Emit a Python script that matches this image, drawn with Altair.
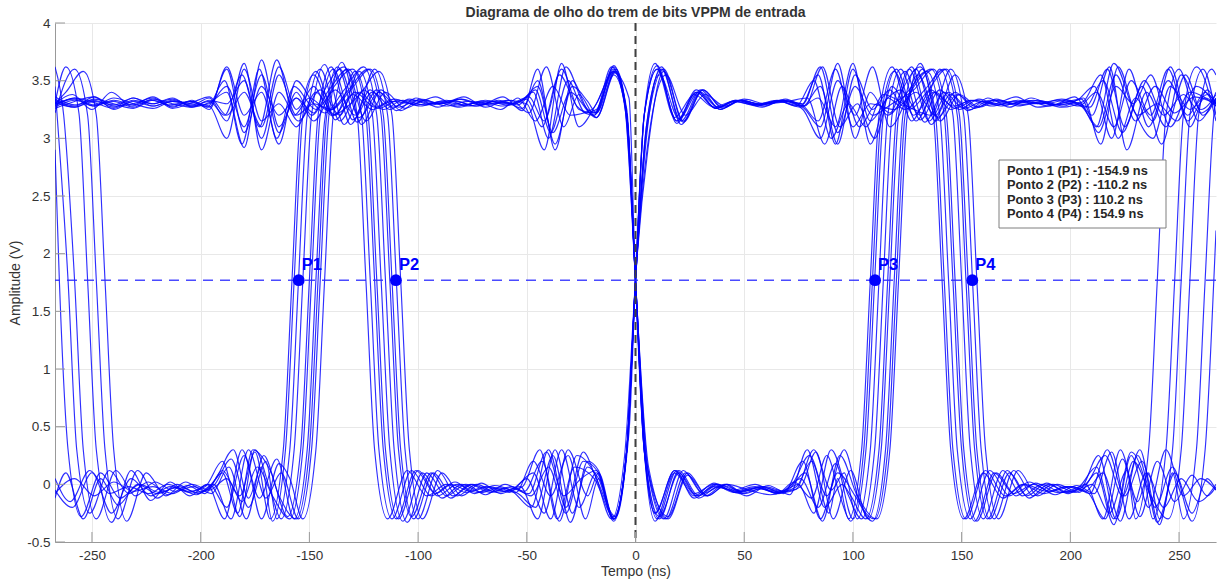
import altair as alt
import pandas as pd

# ---- eye-diagram traces (time ns, amplitude V), knots ----
A = [(-267,3.22),(-258,3.6),(-252,3.2),(-248,1.77),(-244,0.3),(-238,-0.3),(-229,0.12),(-220,-0.12),(-211,0.0),(-202,-0.07),(-194,-0.01),
     (-186,0.22),(-178,-0.2),(-170,0.2),(-165,-0.3),(-159,0.3),(-155,1.77),(-151,3.2),(-145,3.6),(-136,3.15),(-127,3.4),(-118,3.26),(-109,3.33),
     (-99,3.28),(-89,3.32),(-79,3.29),(-69,3.33),(-59,3.29),(-50,3.34),
     (-43,3.1),(-35,3.55),(-27,3.28),(-19,3.2),(-10,3.6),(-4,3.2),(0,1.77),(4,0.3),(10,-0.3),(19,0.12),(28,-0.1),(37,0.0),
     (46,-0.07),(56,-0.03),(66,-0.08),(76,0.05),(84,-0.2),(92,0.18),(100,-0.3),(106,0.3),(110,1.77),(114,3.2),(120,3.6),(129,3.15),(138,3.4),(147,3.26),(156,3.33),
     (166,3.29),(176,3.33),(186,3.3),(196,3.34),(205,3.28),(213,3.1),(221,3.55),(230,3.15),(239,3.45),(248,3.22),(257,3.36),(267,3.3)]
B = [(-267,3.3),(-262,3.4),(-254,3.58),(-248,3.2),(-244,1.77),(-240,0.3),(-234,-0.32),(-225,0.1),(-216,-0.1),(-207,0.02),(-198,-0.06),
     (-190,0.1),(-183,-0.25),(-176,0.3),(-168,0.12),(-160,-0.28),(-154,0.3),(-150,1.77),(-146,3.2),(-140,3.62),(-131,3.12),(-122,3.42),(-113,3.25),(-104,3.34),
     (-94,3.29),(-84,3.33),(-74,3.28),(-64,3.32),(-55,3.3),(-47,3.4),
     (-40,3.0),(-32,3.62),(-24,3.3),(-18,3.18),(-9,3.58),(-4,3.2),(0,1.77),(4,0.3),(11,-0.28),(20,0.1),(29,-0.12),(38,-0.02),
     (48,-0.08),(58,-0.04),(68,-0.07),(76,-0.02),(83,0.28),(91,-0.3),(99,0.12),(107,-0.3),(113,0.3),(117,1.77),(121,3.2),(127,3.62),(136,3.12),(145,3.38),(154,3.25),(163,3.33),
     (173,3.3),(183,3.33),(193,3.29),(203,3.33),(211,3.45),(219,3.0),(227,3.6),(236,3.1),(245,3.5),(254,3.2),(262,3.4),(267,3.3)]
C = [(-267,3.62),(-263,3.2),(-258,1.77),(-254,0.3),(-248,-0.3),(-239,0.12),(-230,-0.1),(-221,0.02),(-212,-0.06),(-203,-0.02),
     (-195,-0.08),(-187,0.15),(-179,-0.3),(-171,0.25),(-164,-0.1),(-156,-0.3),(-150,0.3),(-146,1.77),(-142,3.2),(-136,3.6),(-127,3.18),(-118,3.4),(-109,3.27),(-100,3.33),
     (-90,3.3),(-80,3.34),(-70,3.29),(-60,3.31),(-52,3.26),(-45,3.5),
     (-37,2.95),(-29,3.45),(-22,3.32),(-18,3.22),(-10,3.55),(-4,3.2),(0,1.77),(5,0.2),(13,-0.3),(22,0.12),(31,-0.08),(40,-0.01),
     (49,-0.06),(59,-0.02),(69,-0.06),(78,0.1),(86,-0.32),(94,0.25),(102,-0.1),(111,-0.3),(117,0.3),(121,1.77),(125,3.2),(131,3.65),(140,3.15),(149,3.38),(158,3.27),(167,3.33),
     (177,3.29),(187,3.32),(197,3.28),(206,3.35),(214,2.95),(222,3.62),(231,3.2),(240,3.3),(249,3.15),(258,3.45),(267,3.28)]
D = [(-267,2.9),(-265,1.77),(-261,0.3),(-255,-0.28),(-246,0.1),(-237,-0.12),(-228,0.0),(-219,-0.07),(-210,-0.02),(-201,-0.08),
     (-193,0.05),(-185,0.3),(-178,-0.12),(-172,0.15),(-167,-0.32),(-161,0.3),(-157,1.77),(-153,3.2),(-147,3.58),(-138,3.16),(-129,3.4),(-120,3.27),(-111,3.34),
     (-101,3.29),(-91,3.31),(-81,3.27),(-71,3.32),(-61,3.28),(-52,3.33),
     (-45,3.45),(-38,3.05),(-30,3.4),(-19,3.2),(-11,3.62),(-5,3.3),(0,1.77),(4,0.3),(9,-0.32),(18,0.1),(27,-0.1),(36,0.01),
     (45,-0.06),(55,-0.02),(65,-0.07),(74,-0.04),(82,0.3),(90,-0.05),(96,0.1),(102,-0.3),(108,0.3),(112,1.77),(116,3.2),(122,3.6),(131,3.16),(140,3.42),(149,3.25),(158,3.34),
     (168,3.28),(178,3.32),(188,3.3),(198,3.33),(207,3.27),(215,3.5),(224,3.05),(233,3.45),(242,2.95),(251,3.55),(260,3.25),(267,3.38)]
E = [(-267,-0.05),(-259,-0.2),(-250,0.1),(-241,-0.25),(-232,0.05),(-223,-0.1),(-214,-0.02),(-205,-0.07),(-196,0.0),
     (-188,-0.2),(-180,0.25),(-172,-0.3),(-164,0.18),(-159,0.05),(-153,-0.3),(-147,0.3),(-143,1.77),(-139,3.2),(-133,3.6),(-124,3.15),(-115,3.4),(-106,3.26),(-97,3.33),
     (-87,3.28),(-77,3.32),(-67,3.3),(-57,3.33),(-49,3.22),
     (-41,3.62),(-33,3.1),(-26,3.38),(-18,3.18),(-9,3.6),(-4,3.2),(0,1.77),(6,0.1),(15,-0.28),(24,0.1),(33,-0.1),(42,0.0),
     (50,-0.08),(59,-0.03),(67,-0.06),(75,0.0),(82,-0.25),(90,0.3),(98,-0.1),(104,-0.3),(110,0.3),(114,1.77),(118,3.2),(124,3.58),(133,3.14),(142,3.4),(151,3.26),(160,3.32),
     (170,3.29),(180,3.33),(190,3.28),(200,3.32),(209,3.27),(217,3.6),(225,3.1),(234,3.5),(243,3.2),(252,3.38),(260,3.22),(267,3.34)]
F = [(-267,0.05),(-260,-0.15),(-251,0.12),(-242,-0.08),(-233,-0.02),(-224,-0.08),(-215,0.0),(-206,-0.06),(-198,-0.02),
     (-190,0.2),(-182,-0.28),(-175,0.3),(-168,-0.05),(-163,-0.3),(-157,0.3),(-153,1.77),(-149,3.2),(-143,3.64),(-134,3.12),(-125,3.42),(-116,3.25),(-107,3.33),
     (-97,3.29),(-87,3.33),(-77,3.28),(-67,3.32),(-58,3.3),(-49,3.36),
     (-42,3.15),(-34,3.6),(-26,3.25),(-19,3.22),(-10,3.57),(-3,3.35),(0,1.77),(4,0.3),(11,-0.3),(20,0.12),(29,-0.1),(38,0.0),
     (48,-0.07),(58,-0.02),(68,-0.08),(77,0.2),(85,-0.3),(93,0.1),(101,-0.1),(109,-0.32),(115,0.3),(119,1.77),(123,3.2),(129,3.6),(138,3.15),(147,3.4),(156,3.26),(165,3.33),
     (175,3.3),(185,3.33),(195,3.29),(204,3.31),(212,3.1),(220,3.65),(229,3.25),(238,3.0),(246,3.45),(255,3.25),(263,3.38),(267,3.3)]
G = [(-267,-0.08),(-258,0.05),(-249,-0.1),(-240,0.02),(-231,-0.06),(-222,-0.02),(-213,-0.08),(-204,0.0),(-196,-0.05),
     (-188,0.05),(-181,-0.15),(-174,0.15),(-167,-0.1),(-159,-0.3),(-153,0.3),(-149,1.77),(-145,3.2),(-139,3.6),(-130,3.16),(-121,3.4),(-112,3.27),(-103,3.33),
     (-93,3.3),(-83,3.32),(-73,3.28),(-63,3.33),(-54,3.29),(-46,3.42),
     (-39,3.05),(-31,3.5),(-23,3.22),(-18,3.25),(-10,3.62),(-4,3.2),(0,1.77),(4,0.3),(9,-0.25),(18,0.12),(27,-0.08),(36,0.0),
     (45,-0.07),(55,-0.03),(65,-0.07),(74,-0.02),(81,0.2),(89,-0.25),(93,0.05),(98,-0.3),(104,0.3),(108,1.77),(112,3.2),(118,3.62),(127,3.15),(136,3.42),(145,3.25),(154,3.33),
     (164,3.28),(174,3.32),(184,3.3),(194,3.33),(204,3.28),(212,3.4),(220,3.1),(228,3.5),(237,3.2),(245,3.6),(254,3.15),(262,3.35),(267,3.3)]
H = [(-267,3.3),(-259,3.38),(-250,3.25),(-241,3.4),(-232,3.28),(-223,3.33),(-214,3.29),(-205,3.32),(-197,3.27),
     (-189,3.5),(-181,2.95),(-173,3.6),(-165,3.0),(-157,3.45),(-147,3.25),(-138,3.42),(-129,3.2),(-120,3.6),(-114,3.2),(-110,1.77),(-106,0.3),(-100,-0.3),(-91,0.12),(-82,-0.1),(-73,0.0),
     (-64,-0.07),(-55,-0.02),(-47,0.1),(-39,-0.3),(-31,0.3),(-22,-0.1),(-17,0.1),(-10,-0.3),(-3,0.45),(0,1.77),(4,3.2),(10,3.6),(19,3.15),(28,3.4),(37,3.26),(46,3.33),
     (56,3.29),(66,3.32),(76,3.28),(84,3.55),(92,2.95),(100,3.6),(108,3.15),(116,3.35),(122,3.42),(131,3.2),(140,3.6),(146,3.2),(150,1.77),(154,0.3),(160,-0.3),(169,0.12),(178,-0.1),(187,0.0),
     (196,-0.07),(205,-0.03),(213,0.25),(221,-0.3),(229,0.2),(237,-0.1),(245,-0.3),(251,0.3),(255,1.77),(259,3.2),(265,3.6),(267,3.55)]
I = [(-267,3.34),(-258,3.28),(-249,3.36),(-240,3.25),(-231,3.32),(-222,3.28),(-213,3.33),(-204,3.29),(-196,3.35),
     (-188,3.15),(-180,3.65),(-172,2.9),(-164,3.4),(-155,3.15),(-145,3.42),(-136,3.2),(-127,3.58),(-121,3.2),(-117,1.77),(-113,0.3),(-107,-0.32),(-98,0.1),(-89,-0.12),(-80,0.0),
     (-71,-0.07),(-62,-0.03),(-54,-0.08),(-46,-0.2),(-38,0.25),(-30,-0.33),(-22,0.15),(-17,0.05),(-10,-0.3),(-4,0.3),(0,1.77),(5,3.0),(12,3.62),(21,3.12),(30,3.4),(39,3.25),(48,3.33),
     (57,3.3),(67,3.33),(77,3.27),(85,3.1),(93,3.65),(101,3.0),(108,3.4),(116,3.2),(125,3.4),(134,3.58),(140,3.2),(144,1.77),(148,0.3),(154,-0.3),(163,0.12),(172,-0.1),(181,0.02),
     (191,-0.06),(201,-0.02),(209,-0.08),(217,0.3),(225,-0.1),(233,0.2),(241,-0.35),(247,0.1),(252,-0.3),(258,0.3),(262,1.77),(266,3.2),(267,3.35)]
J = [(-267,3.27),(-258,3.33),(-249,3.28),(-240,3.35),(-231,3.3),(-222,3.26),(-213,3.32),(-204,3.28),(-196,3.3),
     (-188,3.45),(-180,3.1),(-172,3.55),(-164,3.05),(-156,3.4),(-149,3.2),(-141,3.42),(-132,3.6),(-126,3.2),(-122,1.77),(-118,0.3),(-112,-0.3),(-103,0.12),(-94,-0.1),(-85,0.0),
     (-76,-0.06),(-67,-0.02),(-58,-0.07),(-50,0.05),(-42,-0.25),(-34,0.3),(-26,-0.2),(-18,0.1),(-10,-0.3),(-4,0.3),(0,1.77),(4,3.2),(9,3.65),(18,3.18),(27,3.38),(36,3.27),(45,3.32),
     (55,3.29),(65,3.33),(74,3.28),(82,3.5),(90,3.0),(98,3.3),(106,3.1),(114,3.38),(127,3.26),(136,3.2),(145,3.6),(151,3.2),(155,1.77),(159,0.3),(165,-0.3),(174,0.12),(183,-0.1),(192,0.0),
     (202,-0.07),(210,0.0),(218,-0.25),(226,0.12),(230,-0.3),(236,0.3),(240,1.77),(244,3.2),(250,3.6),(259,3.15),(267,3.4)]
K = [(-267,3.36),(-258,3.29),(-249,3.33),(-240,3.27),(-231,3.35),(-222,3.3),(-213,3.34),(-204,3.28),(-196,3.32),
     (-189,3.2),(-181,3.55),(-173,3.1),(-165,3.68),(-157,3.2),(-150,3.35),(-141,3.24),(-132,3.42),(-123,3.6),(-117,3.2),(-113,1.77),(-109,0.3),(-103,-0.28),(-94,0.1),(-85,-0.12),(-76,0.0),
     (-67,-0.07),(-58,-0.03),(-49,-0.08),(-41,0.28),(-33,-0.1),(-25,0.05),(-18,0.12),(-10,-0.32),(-4,0.3),(0,1.77),(6,2.95),(13,3.58),(22,3.14),(31,3.42),(40,3.26),(49,3.33),
     (58,3.29),(68,3.32),(77,3.3),(85,3.62),(93,3.05),(101,3.45),(109,3.2),(118,3.3),(128,3.42),(137,3.6),(143,3.2),(147,1.77),(151,0.3),(157,-0.32),(166,0.1),(175,-0.1),(184,0.01),
     (194,-0.07),(204,-0.02),(212,0.15),(220,-0.3),(228,0.28),(234,0.05),(238,-0.3),(244,0.3),(248,1.77),(252,3.2),(258,3.62),(267,3.15)]
L = [(-267,3.31),(-258,3.27),(-249,3.34),(-240,3.3),(-231,3.26),(-222,3.33),(-213,3.28),(-204,3.32),(-196,3.27),
     (-188,3.6),(-180,3.05),(-172,3.45),(-164,3.2),(-156,3.35),(-148,3.22),(-143,3.42),(-134,3.62),(-128,3.2),(-124,1.77),(-120,0.3),(-114,-0.3),(-105,0.12),(-96,-0.1),(-87,0.0),
     (-78,-0.07),(-69,-0.02),(-60,-0.06),(-52,-0.02),(-44,0.3),(-36,-0.3),(-28,0.15),(-19,0.05),(-10,-0.28),(-4,0.3),(0,1.77),(4,3.2),(10,3.6),(19,3.15),(28,3.42),(37,3.26),(46,3.32),
     (56,3.28),(66,3.33),(76,3.3),(84,3.15),(92,3.6),(100,3.1),(108,3.3),(119,3.25),(129,3.4),(138,3.2),(147,3.55),(153,3.2),(157,1.77),(161,0.3),(167,-0.3),(176,0.12),(185,-0.1),(194,0.0),
     (204,-0.07),(212,0.1),(220,-0.35),(228,0.25),(236,-0.2),(244,0.3),(252,-0.1),(260,0.05),(267,-0.05)]
M = [(-267,3.28),(-258,3.35),(-249,3.29),(-240,3.32),(-231,3.27),(-222,3.34),(-213,3.3),(-204,3.27),(-196,3.33),
     (-188,3.3),(-180,3.5),(-172,3.0),(-164,3.55),(-156,3.2),(-148,3.3),(-140,3.25),(-131,3.42),(-122,3.6),(-116,3.2),(-112,1.77),(-108,0.3),(-102,-0.3),(-93,0.1),(-84,-0.1),(-75,0.0),
     (-66,-0.06),(-57,-0.02),(-48,-0.1),(-40,0.15),(-32,-0.25),(-24,0.2),(-17,0.1),(-10,-0.3),(-4,0.3),(0,1.77),(5,3.1),(11,3.55),(20,3.17),(29,3.4),(38,3.27),(47,3.33),
     (57,3.3),(67,3.33),(77,3.28),(85,3.45),(93,2.95),(101,3.55),(109,3.25),(117,3.42),(123,3.28),(132,3.6),(138,3.2),(142,1.77),(146,0.3),(152,-0.3),(161,0.12),(170,-0.1),(179,0.0),
     (189,-0.06),(199,-0.02),(208,-0.07),(216,-0.3),(224,0.22),(232,-0.28),(240,0.2),(248,-0.15),(256,0.08),(263,-0.1),(267,-0.02)]
N = [(-267,3.33),(-258,3.27),(-249,3.32),(-240,3.29),(-231,3.35),(-222,3.28),(-213,3.32),(-204,3.3),(-196,3.28),
     (-188,3.0),(-180,3.6),(-172,3.15),(-164,3.3),(-156,3.1),(-147,3.4),(-138,3.2),(-129,3.58),(-123,3.2),(-119,1.77),(-115,0.3),(-109,-0.3),(-100,0.12),(-91,-0.1),(-82,0.0),
     (-73,-0.07),(-64,-0.03),(-55,-0.07),(-47,0.2),(-39,-0.1),(-31,0.25),(-23,-0.3),(-17,0.05),(-10,-0.3),(-4,0.3),(0,1.77),(4,3.2),(10,3.63),(19,3.13),(28,3.4),(37,3.26),(46,3.33),
     (56,3.29),(66,3.32),(76,3.27),(84,3.35),(92,3.1),(100,3.65),(108,2.95),(116,3.35),(124,3.25),(133,3.42),(142,3.6),(148,3.2),(152,1.77),(156,0.3),(162,-0.3),(171,0.12),(180,-0.1),(189,0.01),
     (199,-0.07),(208,0.02),(216,0.25),(224,-0.1),(232,0.3),(240,-0.33),(248,0.1),(256,-0.25),(263,0.05),(267,-0.05)]
O = [(-267,3.3),(-262,3.62),(-256,3.22),(-252,1.77),(-248,0.3),(-241,-0.33),(-232,0.12),(-223,-0.14),(-214,0.02),(-205,-0.1),(-197,0.0),
     (-189,-0.3),(-181,0.3),(-173,-0.12),(-165,0.22),(-157,-0.3),(-151,0.3),(-147,1.77),(-143,3.15),(-137,3.62),(-128,3.14),(-119,3.42),(-110,3.24),(-101,3.35),
     (-91,3.27),(-81,3.34),(-71,3.29),(-61,3.36),(-52,3.24),(-45,3.6),(-37,2.9),(-29,3.5),(-22,3.25),(-18,3.22),(-10,3.63),(-5,3.3),(0,1.77),(5,0.2),(14,-0.3),(23,0.1),(32,-0.1),(41,0.0),
     (51,-0.1),(61,-0.01),(71,-0.09),(79,0.3),(87,-0.2),(95,0.0),(99,-0.1),(106,-0.3),(112,0.3),(116,1.77),(120,3.2),(126,3.6),(135,3.15),(144,3.4),(153,3.24),(162,3.35),
     (172,3.27),(182,3.35),(192,3.29),(202,3.36),(210,3.2),(218,3.62),(226,2.9),(235,3.4),(244,3.1),(253,3.55),(261,3.2),(267,3.35)]
P = [(-267,3.45),(-261,1.77),(-257,0.3),(-251,-0.25),(-242,0.12),(-233,-0.08),(-224,0.02),(-215,-0.09),(-206,-0.01),
     (-198,-0.08),(-190,0.12),(-182,-0.1),(-175,0.28),(-168,-0.3),(-162,0.3),(-158,1.77),(-154,3.2),(-148,3.55),(-139,3.2),(-130,3.38),(-121,3.25),(-112,3.32),
     (-102,3.3),(-92,3.36),(-82,3.28),(-72,3.31),(-62,3.25),(-54,3.35),(-46,3.15),(-38,3.45),(-30,3.2),(-20,3.25),(-10,3.58),(-4,3.15),(0,1.77),(4,0.35),(9,-0.25),(18,0.12),(27,-0.12),(36,-0.02),
     (45,-0.05),(55,0.0),(65,-0.08),(73,0.02),(81,-0.12),(88,0.25),(94,-0.1),(99,-0.32),(105,0.3),(109,1.77),(113,3.2),(119,3.58),(128,3.2),(137,3.4),(146,3.28),(155,3.33),
     (165,3.3),(175,3.36),(185,3.27),(195,3.3),(205,3.34),(213,3.05),(221,3.45),(229,3.3),(237,3.55),(246,3.1),(255,3.4),(267,3.28)]
Q = [(-267,3.3),(-258,3.34),(-249,3.28),(-240,3.33),(-231,3.29),(-222,3.36),(-213,3.27),(-204,3.33),(-196,3.25),
     (-188,3.62),(-180,3.2),(-172,3.4),(-164,2.95),(-156,3.5),(-148,3.3),(-143,3.22),(-134,3.42),(-125,3.62),(-119,3.2),(-115,1.77),(-111,0.3),(-105,-0.33),(-96,0.1),(-87,-0.1),(-78,0.0),
     (-69,-0.09),(-60,0.0),(-51,-0.06),(-43,0.2),(-35,-0.32),(-27,0.25),(-19,0.1),(-11,-0.3),(-5,0.25),(0,1.77),(5,3.05),(13,3.6),(22,3.15),(31,3.42),(40,3.27),(49,3.33),
     (59,3.28),(69,3.34),(78,3.28),(86,3.62),(94,3.1),(102,3.3),(110,3.0),(118,3.45),(126,3.25),(134,3.4),(143,3.6),(149,3.2),(153,1.77),(157,0.3),(163,-0.3),(172,0.1),(181,-0.12),(190,0.0),
     (199,-0.08),(207,0.0),(215,-0.3),(223,0.3),(231,-0.15),(236,0.1),(241,-0.3),(247,0.3),(251,1.77),(255,3.2),(261,3.6),(267,3.2)]
R = [(-267,3.29),(-258,3.35),(-249,3.31),(-240,3.26),(-231,3.33),(-222,3.3),(-213,3.35),(-204,3.27),(-196,3.31),
     (-188,3.4),(-180,2.92),(-172,3.68),(-164,3.1),(-156,3.35),(-148,3.15),(-139,3.44),(-130,3.6),(-124,3.2),(-120,1.77),(-116,0.3),(-110,-0.3),(-101,0.12),(-92,-0.08),(-83,0.02),
     (-74,-0.08),(-65,-0.01),(-56,-0.07),(-48,-0.2),(-40,0.3),(-32,-0.2),(-24,0.28),(-18,0.05),(-9,-0.28),(-4,0.3),(0,1.77),(6,3.0),(14,3.55),(23,3.2),(32,3.38),(41,3.28),(50,3.34),
     (60,3.3),(70,3.32),(79,3.35),(87,2.95),(95,3.45),(103,3.1),(111,3.3),(117,3.22),(122,3.4),(131,3.62),(137,3.2),(141,1.77),(145,0.3),(151,-0.3),(160,0.1),(169,-0.12),(178,0.0),
     (188,-0.08),(198,-0.02),(207,-0.06),(215,0.1),(223,-0.32),(231,0.25),(239,-0.2),(247,0.15),(256,-0.32),(262,0.3),(266,1.77),(267,2.2)]
S = [(-267,-0.12),(-262,0.1),(-254,-0.3),(-246,0.05),(-238,-0.18),(-229,0.0),(-220,-0.08),(-211,-0.03),(-202,-0.09),(-194,0.0),
     (-186,-0.3),(-178,0.3),(-170,-0.12),(-163,0.1),(-155,-0.3),(-149,0.3),(-145,1.77),(-141,3.2),(-135,3.66),(-126,3.12),(-117,3.42),(-108,3.24),(-99,3.34),
     (-89,3.3),(-79,3.36),(-69,3.27),(-59,3.33),(-50,3.3),(-42,2.9),(-34,3.65),(-26,3.1),(-18,3.3),(-10,3.58),(-4,3.25),(0,1.77),(6,0.15),(15,-0.3),(24,0.08),(33,-0.1),(42,0.0),
     (52,-0.05),(62,-0.09),(72,0.0),(80,0.25),(88,-0.1),(96,0.3),(103,-0.15),(110,-0.3),(116,0.3),(120,1.77),(124,3.2),(130,3.55),(139,3.18),(148,3.38),(157,3.27),(166,3.34),
     (176,3.28),(186,3.31),(196,3.27),(206,3.32),(214,3.55),(222,3.0),(230,3.35),(238,3.15),(246,3.62),(255,3.1),(263,3.42),(267,3.3)]
T = [(-267,3.26),(-258,3.32),(-249,3.36),(-240,3.28),(-231,3.3),(-222,3.35),(-213,3.26),(-204,3.31),(-196,3.36),
     (-188,3.2),(-180,3.4),(-172,3.1),(-164,3.62),(-156,3.25),(-148,3.45),(-140,3.2),(-131,3.3),(-126,3.4),(-118,3.58),(-112,3.2),(-108,1.77),(-104,0.3),(-98,-0.3),(-89,0.1),(-80,-0.1),(-71,0.01),
     (-62,-0.08),(-53,-0.02),(-45,-0.3),(-37,0.3),(-29,-0.25),(-22,0.2),(-17,0.12),(-10,-0.3),(-4,0.3),(0,1.77),(5,3.1),(12,3.6),(21,3.15),(30,3.42),(39,3.25),(48,3.33),
     (58,3.27),(68,3.33),(77,3.25),(85,3.0),(93,3.5),(101,3.2),(109,3.62),(117,3.1),(127,3.42),(136,3.6),(142,3.2),(146,1.77),(150,0.3),(156,-0.32),(165,0.1),(174,-0.08),(183,0.0),
     (193,-0.09),(203,-0.01),(211,-0.08),(219,0.28),(227,-0.3),(235,0.1),(243,-0.2),(251,0.05),(259,-0.15),(267,0.0)]

TRACES = {"A": A, "B": B, "C": C, "D": D, "E": E, "F": F, "G": G, "H": H, "I": I, "J": J,
          "K": K, "L": L, "M": M, "N": N, "O": O, "P": P, "Q": Q, "R": R, "S": S, "T": T}

# ---- markers ----
POINT_NAMES = ["P1", "P2", "P3", "P4"]
POINT_TIMES = [-154.9, -110.2, 110.2, 154.9]
THRESHOLD = 1.77
LEGEND_LINES = ["Ponto 1 (P1) : -154.9 ns", "Ponto 2 (P2) : -110.2 ns",
                "Ponto 3 (P3) : 110.2 ns", "Ponto 4 (P4) : 154.9 ns"]

X_TICKS = [-250, -200, -150, -100, -50, 0, 50, 100, 150, 200, 250]
Y_TICKS = [-0.5, 0, 0.5, 1, 1.5, 2, 2.5, 3, 3.5, 4]

FONT = "Liberation Sans, Arial, Helvetica, sans-serif"
W, H_ = 1161, 519

rows = [{"trace": k, "t": t, "v": v} for k, pts in TRACES.items() for t, v in pts]
df = pd.DataFrame(rows)
pts_df = pd.DataFrame({"name": POINT_NAMES, "t": POINT_TIMES, "v": [THRESHOLD] * 4})

xs = alt.Scale(domain=[-267, 267], nice=False, zero=False)
ys = alt.Scale(domain=[-0.5, 4], nice=False, zero=False)

x_axis = alt.Axis(values=X_TICKS, title="Tempo (ns)", labelExpr="toString(datum.value)",
                  tickSize=0, labelPadding=6, titlePadding=3, grid=True)
y_axis = alt.Axis(values=Y_TICKS, title="Amplitude (V)", labelExpr="toString(datum.value)",
                  tickSize=0, labelPadding=5, titlePadding=4, grid=True)

lines = alt.Chart(df).mark_line(interpolate="monotone", strokeWidth=1.15, color="#0000ff",
                                opacity=0.82, clip=True).encode(
    x=alt.X("t:Q", scale=xs, axis=x_axis),
    y=alt.Y("v:Q", scale=ys, axis=y_axis),
    detail="trace:N",
)

hline = alt.Chart(pd.DataFrame({"v": [THRESHOLD]})).mark_rule(
    color="#2a2aff", strokeWidth=1.6, strokeDash=[10, 7], opacity=0.85).encode(y=alt.Y("v:Q", scale=ys))

vline = alt.Chart(pd.DataFrame({"t": [0]})).mark_rule(
    color="#404040", strokeWidth=2, strokeDash=[8, 5]).encode(x=alt.X("t:Q", scale=xs))

dots = alt.Chart(pts_df).mark_point(filled=True, size=140, color="#0000ff", opacity=1).encode(
    x=alt.X("t:Q", scale=xs), y=alt.Y("v:Q", scale=ys))

labels = alt.Chart(pts_df).mark_text(align="left", baseline="alphabetic", dx=3, dy=-10,
                                     font=FONT, fontSize=16.5, fontWeight="bold", color="#0000ff").encode(
    x=alt.X("t:Q", scale=xs), y=alt.Y("v:Q", scale=ys), text="name:N")

xticks = alt.Chart(pd.DataFrame({"t": X_TICKS})).mark_rule(color="#999999", strokeWidth=1).encode(
    x=alt.X("t:Q", scale=xs), y=alt.value(H_), y2=alt.value(H_ - 10))
yticks = alt.Chart(pd.DataFrame({"v": Y_TICKS})).mark_rule(color="#999999", strokeWidth=1).encode(
    y=alt.Y("v:Q", scale=ys), x=alt.value(0), x2=alt.value(10))

box = alt.Chart(alt.Data(values=[{}])).mark_rect(fill="white", stroke="#7f7f7f", strokeWidth=1).encode(
    x=alt.value(944), x2=alt.value(1111), y=alt.value(137), y2=alt.value(205))
legend_text = alt.Chart(alt.Data(values=[{}])).mark_text(
    align="left", baseline="middle", lineBreak="\n", lineHeight=14.3, font=FONT,
    fontSize=12.8, fontWeight="bold", color="#262626").encode(
    x=alt.value(952), y=alt.value(148), text=alt.value("\n".join(LEGEND_LINES)))

chart = alt.layer(lines, hline, vline, dots, labels, xticks, yticks, box, legend_text).properties(
    width=W, height=H_,
    title=alt.TitleParams("Diagrama de olho do trem de bits VPPM de entrada", font=FONT, fontSize=14,
                          fontWeight="bold", color="#333333", anchor="middle", offset=5, dy=9),
    autosize=alt.AutoSizeParams(type="none"),
    padding={"left": 55, "top": 23, "right": 4, "bottom": 38},
).configure_view(stroke=None).configure_axis(
    labelFont=FONT, titleFont=FONT, labelFontSize=13.5, titleFontSize=14,
    labelColor="#333333", titleColor="#333333", titleFontWeight="normal",
    domainColor="#999999", gridColor="#e8e8e8", gridWidth=1,
).configure_axisX(domain=True).configure_axisY(domain=True)

chart.save("out.html", embed_options={"renderer": "svg", "actions": False})
